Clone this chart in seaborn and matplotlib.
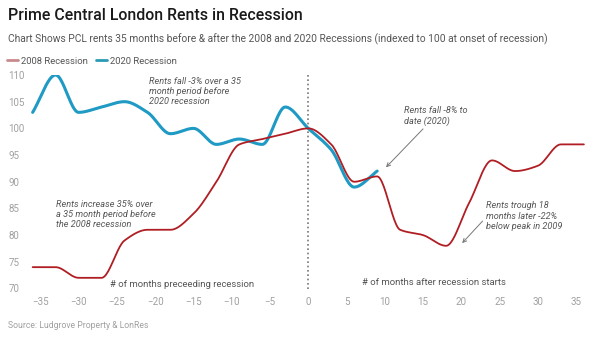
import numpy as np
import pandas as pd
import matplotlib
matplotlib.use("Agg")
import matplotlib.pyplot as plt
from matplotlib.lines import Line2D
import seaborn as sns

# Quarterly rent index (100 = onset of recession), months relative to onset
months_2008 = [-36, -33, -30, -27, -24, -21, -18, -15, -12, -9, -6, -3, 0,
               3, 6, 9, 12, 15, 18, 21, 24, 27, 30, 33, 36]
rents_2008 = [74, 74, 72, 72, 79, 81, 81, 84, 90, 97, 98, 99, 100,
              97, 90, 91, 81, 80, 78, 86, 94, 92, 93, 97, 97]

months_2020 = [-36, -33, -30, -27, -24, -21, -18, -15, -12, -9, -6, -3, 0,
               3, 6, 9]
rents_2020 = [103, 110, 103, 104, 105, 103, 99, 100, 97, 98, 97, 104, 100,
              96, 89, 92]

series_names = ["2008 Recession", "2020 Recession"]
x_ticks = [-35, -30, -25, -20, -15, -10, -5, 0, 5, 10, 15, 20, 25, 30, 35]
y_ticks = [70, 75, 80, 85, 90, 95, 100, 105, 110]

RED = "#b01e24"
BLUE = "#1f9ac4"


def smooth_curve(x, y, n=24):
    """Monotone cubic (Fritsch-Carlson) spline through the points."""
    x = np.asarray(x, float)
    y = np.asarray(y, float)
    h = np.diff(x)
    d = np.diff(y) / h
    m = np.zeros_like(y)
    m[0], m[-1] = d[0], d[-1]
    for k in range(1, len(x) - 1):
        if d[k - 1] * d[k] > 0:
            w1 = 2 * h[k] + h[k - 1]
            w2 = h[k] + 2 * h[k - 1]
            m[k] = (w1 + w2) / (w1 / d[k - 1] + w2 / d[k])
    xs, ys = [], []
    for k in range(len(x) - 1):
        t = np.linspace(0, 1, n, endpoint=(k == len(x) - 2))
        h00 = 2 * t**3 - 3 * t**2 + 1
        h10 = t**3 - 2 * t**2 + t
        h01 = -2 * t**3 + 3 * t**2
        h11 = t**3 - t**2
        xs.append(x[k] + t * h[k])
        ys.append(h00 * y[k] + h10 * h[k] * m[k] + h01 * y[k + 1] + h11 * h[k] * m[k + 1])
    return np.concatenate(xs), np.concatenate(ys)


x08, y08 = smooth_curve(months_2008, rents_2008)
x20, y20 = smooth_curve(months_2020, rents_2020)
df = pd.concat([
    pd.DataFrame({"month": x08, "index": y08, "series": series_names[0]}),
    pd.DataFrame({"month": x20, "index": y20, "series": series_names[1]}),
])

sns.set_theme(style="white")
plt.rcParams["font.family"] = ["Roboto", "DejaVu Sans"]

fig = plt.figure(figsize=(6.0, 3.42), dpi=100)
ax = fig.add_axes([25 / 600, 1 - 288.5 / 342, 565 / 600, 213.5 / 342])

sns.lineplot(data=df[df.series == series_names[0]], x="month", y="index",
             color=RED, lw=1.3, ax=ax, sort=False, legend=False, zorder=3)
sns.lineplot(data=df[df.series == series_names[1]], x="month", y="index",
             color=BLUE, lw=2.2, ax=ax, sort=False, legend=False, zorder=2)

# Onset-of-recession marker
ax.axvline(0, ymin=0, ymax=1, color="#777777", lw=1.2, ls=(0, (1, 1.6)), zorder=1)

ax.set_xlim(-37.0, 36.8)
ax.set_ylim(70, 110)
ax.set_xticks(x_ticks)
ax.set_yticks(y_ticks)
ax.set_xticklabels([f"\u2212{abs(v)}" if v < 0 else str(v) for v in x_ticks])
ax.set_yticklabels([str(v) for v in y_ticks])
ax.tick_params(axis="both", length=0, labelsize=7, labelcolor="#a0a0a0")
ax.tick_params(axis="x", pad=6)
ax.tick_params(axis="y", pad=12)
for lab in ax.get_yticklabels():
    lab.set_horizontalalignment("left")
ax.set_xlabel("")
ax.set_ylabel("")
for s in ax.spines.values():
    s.set_visible(False)
ax.grid(False)

note = dict(fontsize=6.6, style="italic", color="#555555", va="top", ha="left",
            linespacing=1.15)
ax.text(-20.8, 109.7, "Rents fall -3% over a 35\nmonth period before\n2020 recession", **note)
ax.text(-32.9, 86.6, "Rents increase 35% over\na 35 month period before\nthe 2008 recession", **note)
ax.annotate("Rents fall -8% to\ndate (2020)", xy=(10.15, 92.7), xytext=(12.5, 104.2),
            arrowprops=dict(arrowstyle="->", color="#777777", lw=0.7,
                            shrinkA=0, shrinkB=0, relpos=(0.35, 0.0)),
            **note)
ax.annotate("Rents trough 18\nmonths later -22%\nbelow peak in 2009", xy=(20.1, 78.5),
            xytext=(23.2, 86.3),
            arrowprops=dict(arrowstyle="->", color="#777777", lw=0.7,
                            shrinkA=0, shrinkB=0, relpos=(0.0, 0.45)),
            **note)

cap = dict(fontsize=6.8, color="#555555", va="center", ha="left")
ax.text(-25.9, 70.8, "# of months preceeding recession", **cap)
ax.text(7.0, 71.2, "# of months after recession starts", **cap)

fig.text(8 / 600, 1 - 16 / 342, "Prime Central London Rents in Recession",
         fontsize=11.4, fontweight="medium", color="#1a1a1a", va="center", ha="left")
fig.text(8 / 600, 1 - 39 / 342,
         "Chart Shows PCL rents 35 months before & after the 2008 and 2020 Recessions "
         "(indexed to 100 at onset of recession)",
         fontsize=7.35, color="#555555", va="center", ha="left")
fig.text(8 / 600, 1 - 326 / 342, "Source: Ludgrove Property & LonRes",
         fontsize=6.2, color="#a0a0a0", va="center", ha="left")

handles = [Line2D([], [], color="#c98a8c", lw=2), Line2D([], [], color="#2a9bb5", lw=2)]
fig.legend(handles, series_names, loc="center left", bbox_to_anchor=(7 / 600, 1 - 61 / 342),
           frameon=False, fontsize=6.8, labelcolor="#555555", ncol=2,
           handlelength=1.2, handletextpad=0.3, columnspacing=0.8, borderaxespad=0,
           borderpad=0)

fig.savefig("out.png", dpi=100)
